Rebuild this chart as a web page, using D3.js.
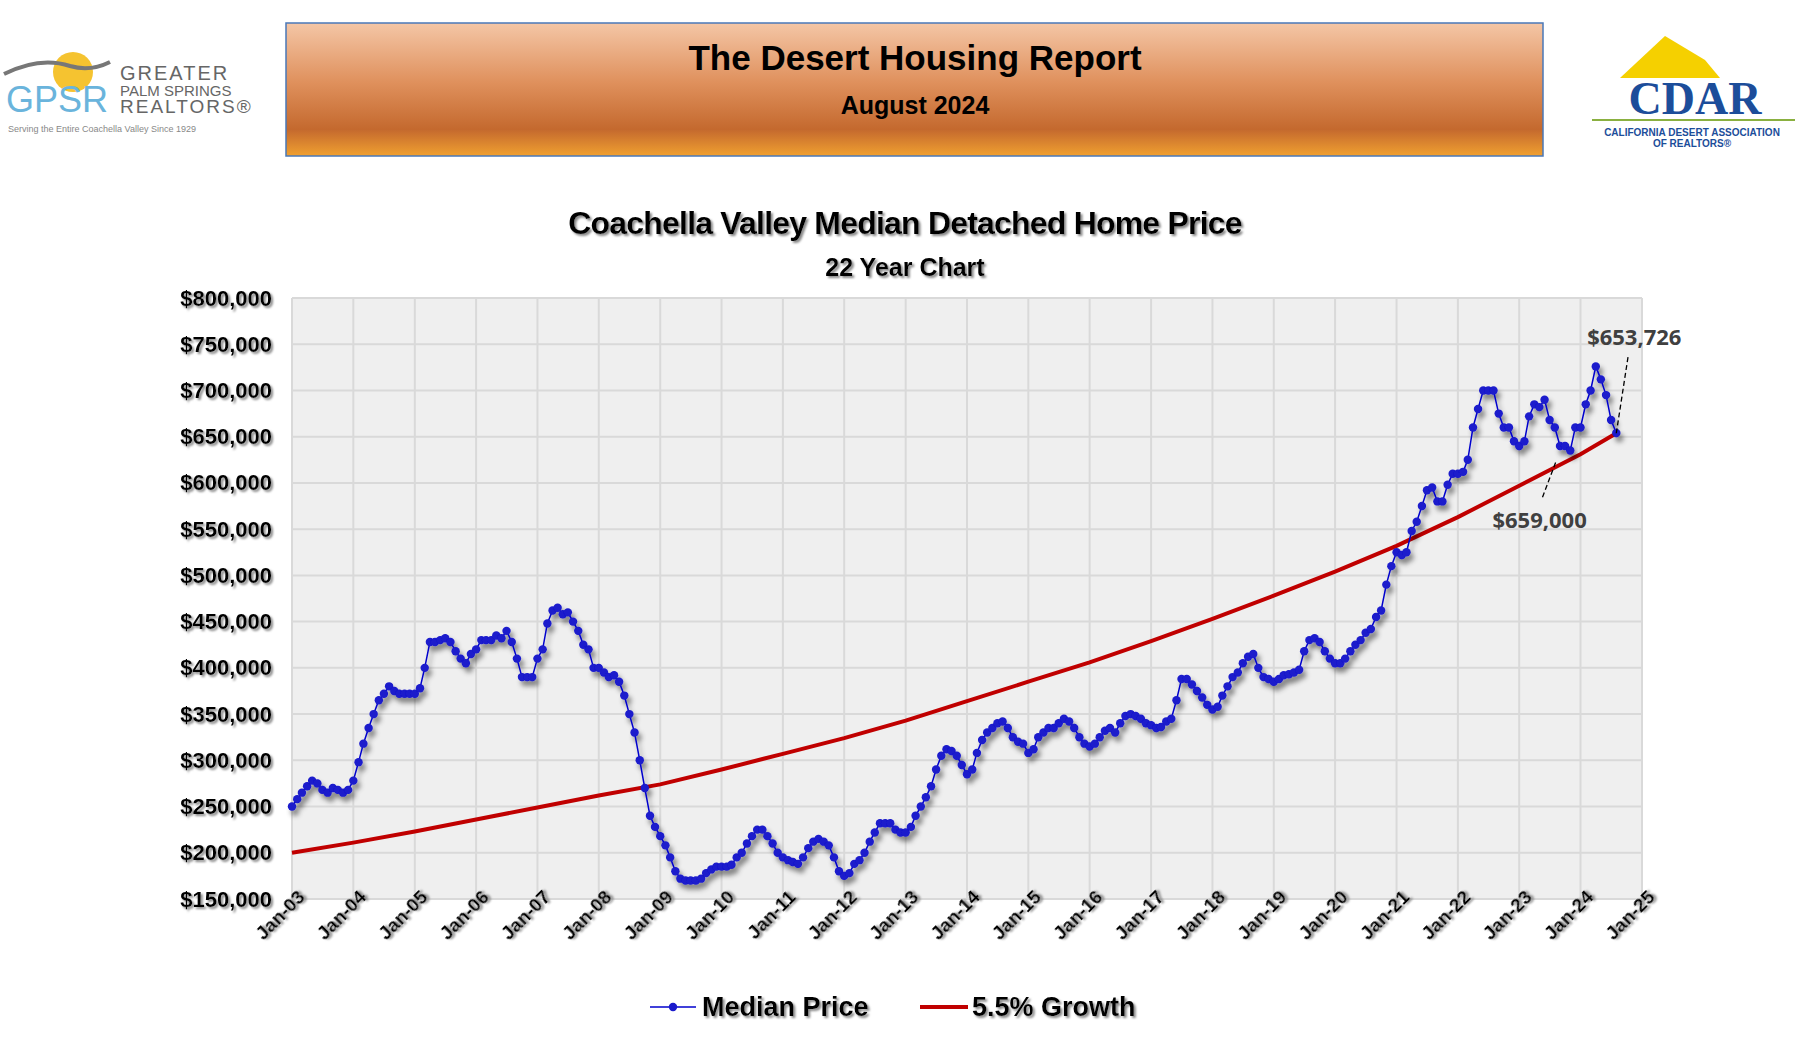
<!DOCTYPE html>
<html><head><meta charset="utf-8">
<script src="https://cdn.jsdelivr.net/npm/d3@7"></script>
<style>body{margin:0;background:#fff}svg{font-family:Arial,"Liberation Sans",sans-serif}</style>
</head><body><svg width="1809" height="1049"></svg>
<script>
// monthly medians in $000, Jan-03 .. Aug-24
const median2003_2012 = [
  250,258,265,272,278,275,268,265,270,268,265,268,
  278,298,318,335,350,365,372,380,375,372,372,372,
  372,378,400,428,428,430,432,428,418,410,405,415,
  420,430,430,430,435,432,440,428,410,390,390,390,
  410,420,448,462,465,458,460,450,440,425,420,400,
  400,395,390,392,385,370,350,330,300,270,240,228,
  218,208,195,180,172,170,170,170,172,178,182,185,
  185,185,187,195,200,210,218,225,225,218,210,200,
  195,192,190,188,195,205,212,215,212,208,195,180,
  175,178,188,192,200,212,222,232,232,232,225,222];
const median2013_2024 = [
  222,228,240,250,260,272,290,305,312,310,305,295,
  285,290,308,322,330,335,340,342,335,325,320,318,
  308,312,325,330,335,335,340,345,342,335,325,318,
  315,318,325,332,335,330,340,348,350,348,345,340,
  338,335,336,342,345,365,388,388,382,375,368,360,
  355,358,370,380,390,395,405,412,415,400,390,388,
  385,388,392,393,395,398,418,430,432,428,418,410,
  405,405,410,418,425,430,438,442,455,462,490,510,
  525,522,525,548,558,575,592,595,580,580,598,610,
  610,612,625,660,680,700,700,700,675,660,660,645,
  640,645,672,685,682,690,668,660,640,640,635,660,
  660,685,700,726,712,695,668,654];
// 5.5% growth line read at each January, last point Aug-24
const growthDates = ["2003-01","2004-01","2005-01","2006-01","2007-01","2008-01","2009-01","2010-01","2011-01","2012-01","2013-01","2014-01","2015-01","2016-01","2017-01","2018-01","2019-01","2020-01","2021-01","2022-01","2023-01","2024-01","2024-08"];
const growthValues = [200,211,223,236,249,262,274,290,307,324,343,364,385,406,429,453,478,504,532,563,597,631,653.726];
const yTicks = [150,200,250,300,350,400,450,500,550,600,650,700,750,800];
const xTickYears = d3.range(2003, 2026);

const parse = d3.timeParse("%Y-%m");
const medianVals = median2003_2012.concat(median2013_2024);
const medianData = medianVals.map((v, i) => ({date: new Date(2003, i, 1), v}));
const growthData = growthDates.map((d, i) => ({date: parse(d), v: growthValues[i]}));

const svg = d3.select("svg");
const defs = svg.append("defs");
const hg = defs.append("linearGradient").attr("id","hdr").attr("x1",0).attr("y1",0).attr("x2",0).attr("y2",1);
hg.append("stop").attr("offset","0%").attr("stop-color","#f4c6a6");
hg.append("stop").attr("offset","45%").attr("stop-color","#df905c");
hg.append("stop").attr("offset","80%").attr("stop-color","#c4692e");
hg.append("stop").attr("offset","100%").attr("stop-color","#f0a030");
const sh = defs.append("filter").attr("id","tsh");
sh.append("feDropShadow").attr("dx",2).attr("dy",2).attr("stdDeviation",1.2).attr("flood-color","#888");
const ms = defs.append("filter").attr("id","msh").attr("x","-10%").attr("y","-10%").attr("width","120%").attr("height","130%");
ms.append("feDropShadow").attr("dx",3).attr("dy",5).attr("stdDeviation",2.5).attr("flood-color","#000").attr("flood-opacity",0.45);

// header
svg.append("rect").attr("x",286).attr("y",23).attr("width",1257).attr("height",133)
  .attr("fill","url(#hdr)").attr("stroke","#4a78b8").attr("stroke-width",1.5);
svg.append("text").attr("x",915).attr("y",70).attr("text-anchor","middle").attr("font-size",35).attr("font-weight","bold").text("The Desert Housing Report");
svg.append("text").attr("x",915).attr("y",114).attr("text-anchor","middle").attr("font-size",25).attr("font-weight","bold").text("August 2024");

// left logo
svg.append("circle").attr("cx",73).attr("cy",72).attr("r",20).attr("fill","#f5c330");
svg.append("path").attr("d","M4,74 Q40,56 70,66 Q90,72 110,62").attr("fill","none").attr("stroke","#777").attr("stroke-width",4);
svg.append("text").attr("x",6).attr("y",112).attr("font-size",36).attr("fill","#6ab4dc").text("GPSR");
svg.append("text").attr("x",120).attr("y",80).attr("font-size",20).attr("fill","#666").attr("letter-spacing",2).text("GREATER");
svg.append("text").attr("x",120).attr("y",96).attr("font-size",15).attr("fill","#666").text("PALM SPRINGS");
svg.append("text").attr("x",120).attr("y",113).attr("font-size",19).attr("fill","#666").attr("letter-spacing",2).text("REALTORS®");
svg.append("text").attr("x",8).attr("y",132).attr("font-size",9).attr("fill","#888").text("Serving the Entire Coachella Valley Since 1929");
// right logo
svg.append("path").attr("d","M1620,78 L1665,36 L1705,60 L1720,78 Z").attr("fill","#f5d000");
svg.append("text").attr("x",1695).attr("y",114).attr("text-anchor","middle").attr("font-size",46).attr("font-weight","bold").attr("fill","#1c4d9a").attr("font-family","Liberation Serif,serif").text("CDAR");
svg.append("line").attr("x1",1592).attr("x2",1795).attr("y1",120).attr("y2",120).attr("stroke","#8ab040").attr("stroke-width",2);
svg.append("text").attr("x",1692).attr("y",136).attr("text-anchor","middle").attr("font-size",10).attr("font-weight","bold").attr("fill","#1c4d9a").text("CALIFORNIA DESERT ASSOCIATION");
svg.append("text").attr("x",1692).attr("y",147).attr("text-anchor","middle").attr("font-size",10).attr("font-weight","bold").attr("fill","#1c4d9a").text("OF REALTORS®");

// titles
svg.append("text").attr("x",905).attr("y",234).attr("text-anchor","middle").attr("font-size",32).attr("font-weight","bold").attr("letter-spacing",-0.8).attr("filter","url(#tsh)").text("Coachella Valley Median Detached Home Price");
svg.append("text").attr("x",905).attr("y",276).attr("text-anchor","middle").attr("font-size",25).attr("font-weight","bold").attr("filter","url(#tsh)").text("22 Year Chart");

const L = 292, R = 1642, T = 298, B = 899;
const x = d3.scaleTime().domain([new Date(2003,0,1), new Date(2025,0,1)]).range([L, R]);
const y = d3.scaleLinear().domain([150, 800]).range([B, T]);

svg.append("rect").attr("x",L).attr("y",T).attr("width",R-L).attr("height",B-T).attr("fill","#efefef");
svg.append("g").selectAll("line").data(yTicks).join("line")
  .attr("x1",L).attr("x2",R).attr("y1",d=>y(d)).attr("y2",d=>y(d)).attr("stroke","#d9d9d9").attr("stroke-width",2);
svg.append("g").selectAll("line").data(xTickYears).join("line")
  .attr("x1",d=>x(new Date(d,0,1))).attr("x2",d=>x(new Date(d,0,1))).attr("y1",T).attr("y2",B).attr("stroke","#d9d9d9").attr("stroke-width",2);

const yAxis = svg.append("g").attr("transform",`translate(${L},0)`)
  .call(d3.axisLeft(y).tickValues(yTicks).tickSize(0).tickPadding(20).tickFormat(d=>"$"+d3.format(",")(d*1000)));
yAxis.select(".domain").remove();
yAxis.selectAll("text").attr("font-size",22).attr("font-weight","bold").attr("fill","#000").attr("font-family","Arial,Liberation Sans").attr("filter","url(#tsh)");

const xAxis = svg.append("g").attr("transform",`translate(0,${B})`)
  .call(d3.axisBottom(x).tickValues(xTickYears.map(d=>new Date(d,0,1))).tickSize(0).tickFormat(d3.timeFormat("Jan-%y")));
xAxis.select(".domain").remove();
xAxis.selectAll("text").attr("font-size",19).attr("font-weight","bold").attr("fill","#000").attr("font-family","Arial,Liberation Sans")
  .attr("text-anchor","end").attr("dx",10).attr("dy",6).attr("transform","rotate(-45)").attr("filter","url(#tsh)");

const line = d3.line().x(d=>x(d.date)).y(d=>y(d.v));
svg.append("path").datum(growthData).attr("d",line).attr("fill","none").attr("stroke","#c00000").attr("stroke-width",4);
const mg = svg.append("g").attr("filter","url(#msh)");
mg.append("path").datum(medianData).attr("d",line).attr("fill","none").attr("stroke","#0000cc").attr("stroke-width",1.5);
mg.selectAll("circle").data(medianData).join("circle").attr("cx",d=>x(d.date)).attr("cy",d=>y(d.v)).attr("r",4.2).attr("fill","#1a1acc");

// annotations
const lastG = growthData[growthData.length-1];
svg.append("line").attr("x1",x(lastG.date)).attr("y1",y(lastG.v)).attr("x2",x(lastG.date)+12).attr("y2",y(lastG.v)-78)
  .attr("stroke","#000").attr("stroke-dasharray","5,3").attr("stroke-width",1.3);
svg.append("text").attr("x",x(lastG.date)+18).attr("y",y(lastG.v)-88).attr("text-anchor","middle").attr("font-size",22).attr("font-weight","bold").attr("fill","#404040").attr("font-family","Open Sans,sans-serif").text("$653,726");
const ad = new Date(2023,6,1);
svg.append("line").attr("x1",x(ad)+6).attr("y1",y(622)).attr("x2",x(ad)-8).attr("y2",y(582))
  .attr("stroke","#000").attr("stroke-dasharray","5,3").attr("stroke-width",1.3);
svg.append("text").attr("x",x(ad)-10).attr("y",y(582)+28).attr("text-anchor","middle").attr("font-size",22).attr("font-weight","bold").attr("fill","#404040").attr("font-family","Open Sans,sans-serif").text("$659,000");

// legend
const lg = svg.append("g").attr("transform","translate(650,1007)");
lg.append("line").attr("x1",0).attr("x2",46).attr("stroke","#0000cc").attr("stroke-width",1.5);
lg.append("circle").attr("cx",23).attr("r",4.2).attr("fill","#1a1acc");
lg.append("text").attr("x",52).attr("y",9).attr("font-size",27).attr("font-weight","bold").attr("filter","url(#tsh)").text("Median Price");
lg.append("line").attr("x1",270).attr("x2",318).attr("stroke","#c00000").attr("stroke-width",4);
lg.append("text").attr("x",322).attr("y",9).attr("font-size",27).attr("font-weight","bold").attr("filter","url(#tsh)").text("5.5% Growth");
</script></body></html>
